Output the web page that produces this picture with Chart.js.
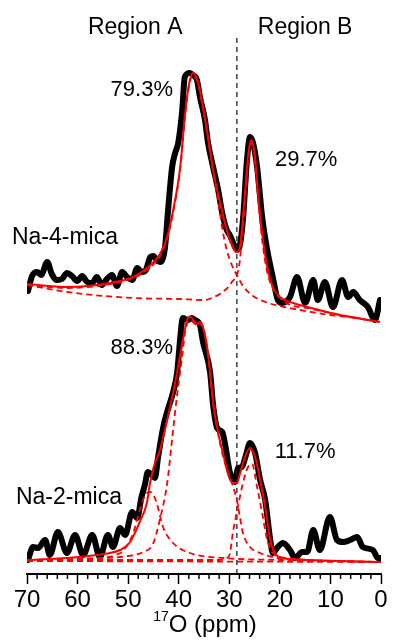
<!DOCTYPE html>
<html>
<head>
<meta charset="utf-8">
<script src="https://cdn.jsdelivr.net/npm/chart.js@4.4.1/dist/chart.umd.min.js"></script>
<style>
  html, body { margin: 0; padding: 0; background: #fff; }
  #wrap { width: 393px; height: 643px; }
</style>
</head>
<body>
<div id="wrap"><canvas id="nmrChart"></canvas></div>
<script>
// 17O shift (ppm) and stacked intensity; Na-4-mica sits on top of Na-2-mica
const na4ExpPpm = [69.8,69.0,68.0,67.2,66.0,65.1,64.1,63.1,62.1,61.1,60.1,59.1,58.1,57.1,56.2,55.2,54.2,53.2,52.2,51.2,50.2,49.2,48.2,47.3,46.5,45.6,45.0,44.4,43.7,42.7,42.1,41.3,40.7,40.1,39.3,38.8,37.8,37.2,36.4,35.8,34.8,34.2,33.2,32.2,31.4,30.5,29.9,29.3,28.5,27.9,27.3,26.5,25.9,25.3,24.5,23.5,22.5,21.4,20.4,19.6,18.0,16.6,15.0,13.4,12.5,11.1,9.5,7.7,6.5,5.5,4.2,2.6,1.2,0.2];
const na4Exp = [283,298,302,299,312,300,294,295,301,298,293,298,292,291,297,289,295,299,288,302,297,294,306,302,304,317,318,314,312,327,364,407,421,431,464,497,501,499,494,477,454,431,407,384,361,344,339,332,324,329,354,414,437,431,407,357,324,297,274,271,277,297,271,294,274,292,267,294,277,282,274,267,254,274];

const na4FitPpm = [70.0,62.1,53.6,49.0,46.3,43.7,42.3,41.1,39.7,38.8,38.0,37.2,36.2,35.2,34.2,33.2,31.8,30.5,29.3,28.5,27.9,26.9,26.3,25.7,24.9,24.5,23.5,22.5,21.4,20.0,18.0,14.6,11.5,8.1,4.7,0.2];
const na4Fit = [290,287,291,297,306,320,337,364,407,457,489,501,492,467,437,404,371,344,327,322,327,381,417,434,417,391,341,307,287,277,272,267,263,259,256,252];

const na4CompAPpm = [70.0,62.1,53.6,49.0,46.3,43.7,42.3,41.1,39.7,38.8,38.0,37.2,36.2,35.2,34.2,33.2,32.2,31.4,30.5,29.5,28.5,27.3,25.3,22.9,20.0,16.0,10.1,5.1,0.2];
const na4CompA = [289,286,290,296,304,318,335,362,405,455,487,499,490,465,435,402,374,346,324,309,299,288,278,272,268,264,259,256,252];

const na4CompBPpm = [70.0,62.1,49.0,40.0,35.0,33.0,31.6,30.0,29.5,28.5,28.0,27.5,27.0,26.5,26.0,25.7,25.2,24.5,23.5,22.5,21.4,20.0,18.0,14.6,10.0,5.0,0.2];
const na4CompB = [289,282,276,275,274,277,281,288,292,299,310,335,365,400,425,431,424,387,334,302,286,276,269,266,261,256,252];

const na2ExpPpm = [69.8,68.8,67.8,66.4,65.5,63.9,62.1,60.5,58.9,57.1,55.6,54.0,53.0,51.6,50.6,49.2,48.2,47.4,46.7,46.1,45.3,44.7,44.1,43.1,42.3,41.1,40.3,39.7,39.2,38.2,37.4,36.8,35.8,35.2,33.8,33.2,32.4,31.4,30.8,29.9,28.9,28.3,27.5,26.7,25.9,24.9,23.9,22.9,21.9,21.4,20.4,19.4,18.0,17.0,15.6,14.6,13.4,12.1,10.1,8.7,7.5,6.1,4.7,3.6,1.6,0.6,0.0];
const na2Exp = [14,27,26,34,19,42,21,39,19,39,17,39,27,46,39,62,56,76,89,102,99,96,116,146,162,182,202,236,256,254,256,254,249,232,202,169,146,142,129,102,92,106,107,119,131,121,94,74,34,21,27,31,24,16,22,22,44,24,57,34,32,34,37,27,24,16,16];

const na2FitPpm = [70.0,62.1,56.2,53.6,51.6,49.6,47.7,46.3,45.7,45.1,44.7,43.7,42.3,41.1,39.7,38.8,38.2,37.6,37.0,36.4,35.8,35.2,34.6,34.0,33.2,32.2,31.2,30.3,29.3,28.5,27.9,26.9,25.9,24.9,23.9,22.9,21.9,21.0,19.4,14.6,0.0];
const na2Fit = [14,16,19,21,24,32,52,71,90,104,111,124,154,181,219,244,256,257,253,250,252,247,234,212,172,141,120,101,91,91,100,117,126,117,94,67,34,21,16,14,12];

const na2CompSidePpm = [70.0,55.0,52.0,51.0,49.0,47.7,46.5,45.7,44.9,44.3,43.1,41.1,37.8,31.2,20.0,0.0];
const na2CompSide = [14,16,20,23,41,64,80,82,78,70,47,31,21,16,14,12];

const na2CompAPpm = [70.0,55.0,50.0,47.0,45.1,43.7,42.3,41.3,40.3,39.3,38.8,38.2,37.6,37.0,36.4,35.8,35.2,34.6,34.0,33.2,32.2,31.2,29.9,28.5,27.9,27.3,25.9,23.9,20.6,14.6,0.0];
const na2CompA = [14,16,18,22,30,55,90,135,180,218,240,252,254,251,249,250,246,233,210,171,140,117,97,74,57,41,27,21,16,14,12];

const na2CompBPpm = [70.0,32.0,30.5,29.9,29.3,28.3,27.3,26.3,25.5,24.5,23.5,22.5,21.4,18.6,14.6,0.0];
const na2CompB = [14,14,16,20,41,67,91,107,110,87,61,34,21,16,14,12];

const na2BasePpm = [70.0, 0.0];
const na2Base = [13, 12];

const dividerPpm = [28.5, 28.5];
const dividerY = [0, 538];

const FONT = "'Liberation Sans', Arial, sans-serif";
const pts = (xs, ys) => xs.map((x, i) => ({ x: x, y: ys[i] }));

const black = { borderColor: "#000", borderWidth: 6, borderJoinStyle: "round", borderCapStyle: "round", order: 10 };
const fit = { borderColor: "#ff0000", borderWidth: 2, order: 1 };
const comp = { borderColor: "#ff0000", borderWidth: 1.8, borderDash: [6, 4], order: 2 };

const notes = [
  { text: "Region A", ppm: 48.6, y: 546, size: 23 },
  { text: "Region B", ppm: 15.0, y: 546, size: 23 },
  { text: "79.3%", ppm: 47.3, y: 484, size: 22 },
  { text: "29.7%", ppm: 14.8, y: 414, size: 22 },
  { text: "Na-4-mica", ppm: 62.5, y: 336, size: 23 },
  { text: "88.3%", ppm: 47.3, y: 226, size: 22 },
  { text: "11.7%", ppm: 15.0, y: 122, size: 22 },
  { text: "Na-2-mica", ppm: 61.7, y: 76, size: 23 },
];

const decor = {
  id: "decor",
  afterDraw(chart) {
    const ctx = chart.ctx;
    const x = chart.scales.x, y = chart.scales.y;
    ctx.save();
    // minor ticks every 2 ppm
    ctx.strokeStyle = "#000";
    ctx.lineWidth = 1.5;
    for (let v = 2; v < 70; v += 2) {
      if (v % 10 === 0) continue;
      const px = x.getPixelForValue(v);
      ctx.beginPath();
      ctx.moveTo(px, x.top);
      ctx.lineTo(px, x.top + 5);
      ctx.stroke();
    }
    ctx.fillStyle = "#000";
    ctx.textAlign = "center";
    ctx.textBaseline = "middle";
    notes.forEach(n => {
      ctx.font = n.size + "px " + FONT;
      ctx.fillText(n.text, x.getPixelForValue(n.ppm), y.getPixelForValue(n.y));
    });
    // axis title: superscript 17 + O (ppm)
    ctx.textAlign = "left";
    ctx.textBaseline = "alphabetic";
    ctx.font = "14px " + FONT;
    const w1 = ctx.measureText("17").width;
    ctx.font = "24px " + FONT;
    const w2 = ctx.measureText("O (ppm)").width;
    const x0 = (x.left + x.right) / 2 + 1 - (w1 + w2) / 2;
    ctx.fillText("O (ppm)", x0 + w1, x.top + 58);
    ctx.font = "14px " + FONT;
    ctx.fillText("17", x0, x.top + 47);
    ctx.restore();
  }
};

const ctx = document.getElementById("nmrChart").getContext("2d");
new Chart(ctx, {
  type: "line",
  data: {
    datasets: [
      { ...black, data: pts(na4ExpPpm, na4Exp) },
      { ...black, data: pts(na2ExpPpm, na2Exp) },
      { ...fit, data: pts(na4FitPpm, na4Fit) },
      { ...fit, data: pts(na2FitPpm, na2Fit) },
      { ...comp, data: pts(na4CompAPpm, na4CompA) },
      { ...comp, data: pts(na4CompBPpm, na4CompB) },
      { ...comp, data: pts(na2CompSidePpm, na2CompSide) },
      { ...comp, data: pts(na2CompAPpm, na2CompA) },
      { ...comp, data: pts(na2CompBPpm, na2CompB) },
      { ...comp, data: pts(na2BasePpm, na2Base) },
      {
        data: pts(dividerPpm, dividerY),
        borderColor: "#222",
        borderWidth: 1.3,
        borderDash: [5, 4],
        cubicInterpolationMode: "default",
        tension: 0,
        order: 5,
      },
    ],
  },
  options: {
    responsive: true,
    maintainAspectRatio: false,
    animation: false,
    layout: { padding: { left: 27, right: 12, top: 34, bottom: 0 } },
    elements: {
      point: { radius: 0 },
      line: { cubicInterpolationMode: "monotone", fill: false },
    },
    plugins: { legend: { display: false }, tooltip: { enabled: false } },
    scales: {
      x: {
        type: "linear",
        reverse: true,
        min: 0,
        max: 70,
        afterFit(scale) { scale.height = 69; },
        grid: { drawOnChartArea: false, drawTicks: true, tickLength: 10, tickWidth: 1.5, tickColor: "#000" },
        border: { display: true, color: "#000", width: 2 },
        ticks: { stepSize: 10, padding: 2, color: "#000", font: { family: FONT, size: 24 } },
      },
      y: { display: false, min: 0, max: 540 },
    },
  },
  plugins: [decor],
});
</script>
</body>
</html>
